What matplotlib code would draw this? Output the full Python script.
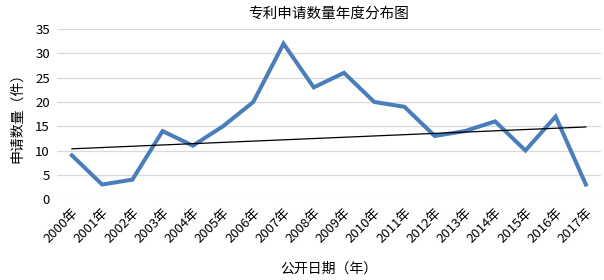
import numpy as np
import matplotlib.pyplot as plt

plt.rcParams["font.family"] = ["Noto Sans CJK SC", "DejaVu Sans"]

years = ["2000年", "2001年", "2002年", "2003年", "2004年", "2005年", "2006年",
         "2007年", "2008年", "2009年", "2010年", "2011年", "2012年", "2013年",
         "2014年", "2015年", "2016年", "2017年"]
counts = [9, 3, 4, 14, 11, 15, 20, 32, 23, 26, 20, 19, 13, 14, 16, 10, 17, 3]
# linear trendline end values
trend_ends = [10.35, 14.85]

fig = plt.figure(figsize=(6.04, 2.8), dpi=100)
ax = fig.add_axes([0.094, 0.289, 0.901, 0.607])

x = np.arange(len(years))
ax.plot(x, counts, color="#4a7ebb", lw=2.9, solid_joinstyle="miter", zorder=3)
ax.plot([x[0], x[-1]], trend_ends, color="black", lw=0.9, zorder=4)

ax.set_xlim(-0.5, len(years) - 0.5)
ax.set_ylim(0, 35)
ax.set_yticks(range(0, 36, 5))
ax.set_xticks(x)
ax.set_xticklabels(years, rotation=45, ha="right", rotation_mode="anchor", fontsize=9.5)
ax.tick_params(axis="y", labelsize=9.5)
ax.tick_params(length=0, pad=5)
ax.grid(axis="y", color="#d9d9d9", lw=0.9)
ax.set_axisbelow(True)
for s in ax.spines.values():
    s.set_visible(False)

ax.set_title("专利申请数量年度分布图", fontsize=10.5, pad=8)
ax.set_ylabel("申请数量（件）", fontsize=10, labelpad=8)
fig.text(0.545, 0.025, "公开日期（年）", ha="center", fontsize=10)

fig.savefig("out.png")
